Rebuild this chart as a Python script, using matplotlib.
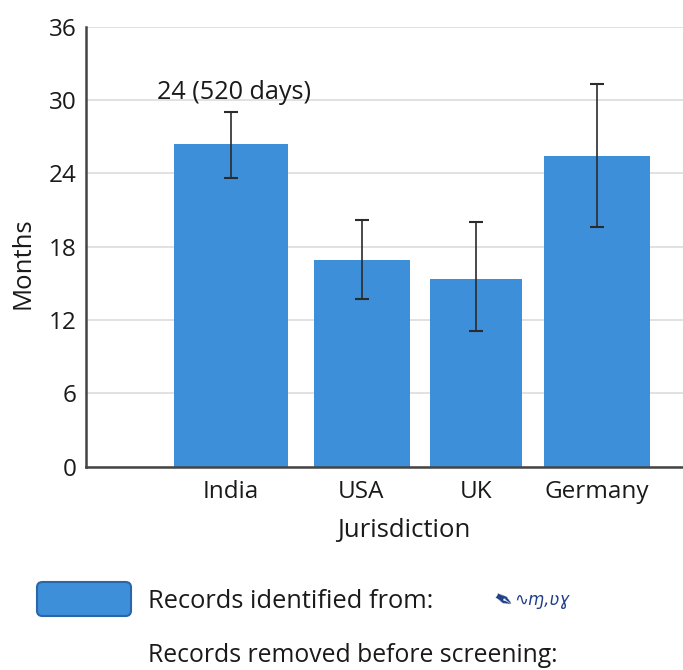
import matplotlib
matplotlib.use("Agg")
import matplotlib.pyplot as plt
from matplotlib.patches import FancyBboxPatch

# ---- data ----
categories = ["India", "USA", "UK", "Germany"]
months = [26.4, 16.9, 15.35, 25.4]
err_low = [23.6, 13.7, 11.1, 19.6]
err_high = [29.0, 20.2, 20.0, 31.3]
y_ticks = [0, 6, 12, 18, 24, 30, 36]
annotation = "24 (520 days)"
legend_lines = ["Records identified from:", "Records removed before screening:"]

# ---- layout (pixel-like x coordinates) ----
positions = [231, 361.5, 476, 597]
widths = [114, 96, 92, 106]

plt.rcParams['font.family'] = ['Open Sans', 'DejaVu Sans']
BAR = '#3d8fd9'
TXT = '#1a1a1a'

fig = plt.figure(figsize=(6.83, 6.70), dpi=100)
ax = fig.add_axes([86/683, 1-466.6/670, 1-86/683, (466.6-26.7)/670])

ax.bar(positions, months, width=widths, color=BAR, zorder=2)
yerr = [[m - lo for m, lo in zip(months, err_low)],
        [hi - m for m, hi in zip(months, err_high)]]
ax.errorbar(positions, months, yerr=yerr, fmt='none', ecolor='#2b2b2b',
            elinewidth=1.2, capsize=4.8, capthick=1.5, zorder=3)

ax.set_xlim(86, 683)
ax.set_ylim(0, 36)
ax.set_yticks(y_ticks)
ax.set_yticklabels([str(t) for t in y_ticks], fontsize=17.5, color=TXT)
ax.set_xticks(positions)
ax.set_xticklabels(categories, fontsize=17.5, color=TXT)
ax.tick_params(axis='both', length=0)
ax.tick_params(axis='x', pad=10)
ax.tick_params(axis='y', pad=7)
ax.grid(axis='y', color='#dcdcdc', linewidth=1.2, zorder=0)
ax.set_axisbelow(True)
for s in ['top', 'right']:
    ax.spines[s].set_visible(False)
for s in ['left', 'bottom']:
    ax.spines[s].set_color('#444444')
    ax.spines[s].set_linewidth(1.8)

ax.set_xlabel("Jurisdiction", fontsize=18.5, color=TXT, va='center')
ax.xaxis.set_label_coords((404-86)/(683-86), -(530-466.6)/439.9)
ax.set_ylabel("Months", fontsize=18.5, color=TXT, va='center')
ax.yaxis.set_label_coords(-(86-23)/(683-86), (466.6-263)/439.9)

ax.text(positions[0] + 3, 30.6, annotation, ha='center', va='center',
        fontsize=18.2, color=TXT)

# legend-like footer
box = FancyBboxPatch((37/683, 1-616/670), (131-37)/683, (616-582)/670,
                     boxstyle="round,pad=0,rounding_size=0.008",
                     transform=fig.transFigure, facecolor=BAR,
                     edgecolor='#2a66a8', linewidth=1.5)
fig.patches.append(box)
fig.text(148/683, 1-601/670, legend_lines[0], ha='left', va='center',
         fontsize=18.3, color=TXT)
fig.text(488/683, 1-601/670, "\u2712", ha='left', va='center',
         fontsize=17, color='#1f3f8a', family=['DejaVu Sans'], rotation=-30)
fig.text(514/683, 1-600/670, "\u223f\u0271,\u028b\u0263", ha='left', va='center',
         fontsize=12, color='#1f3f8a', style='italic', family=['DejaVu Sans'])
fig.text(148/683, 1-656/670, legend_lines[1], ha='left', va='center',
         fontsize=17.8, color=TXT)

fig.savefig("out.png", dpi=100)
